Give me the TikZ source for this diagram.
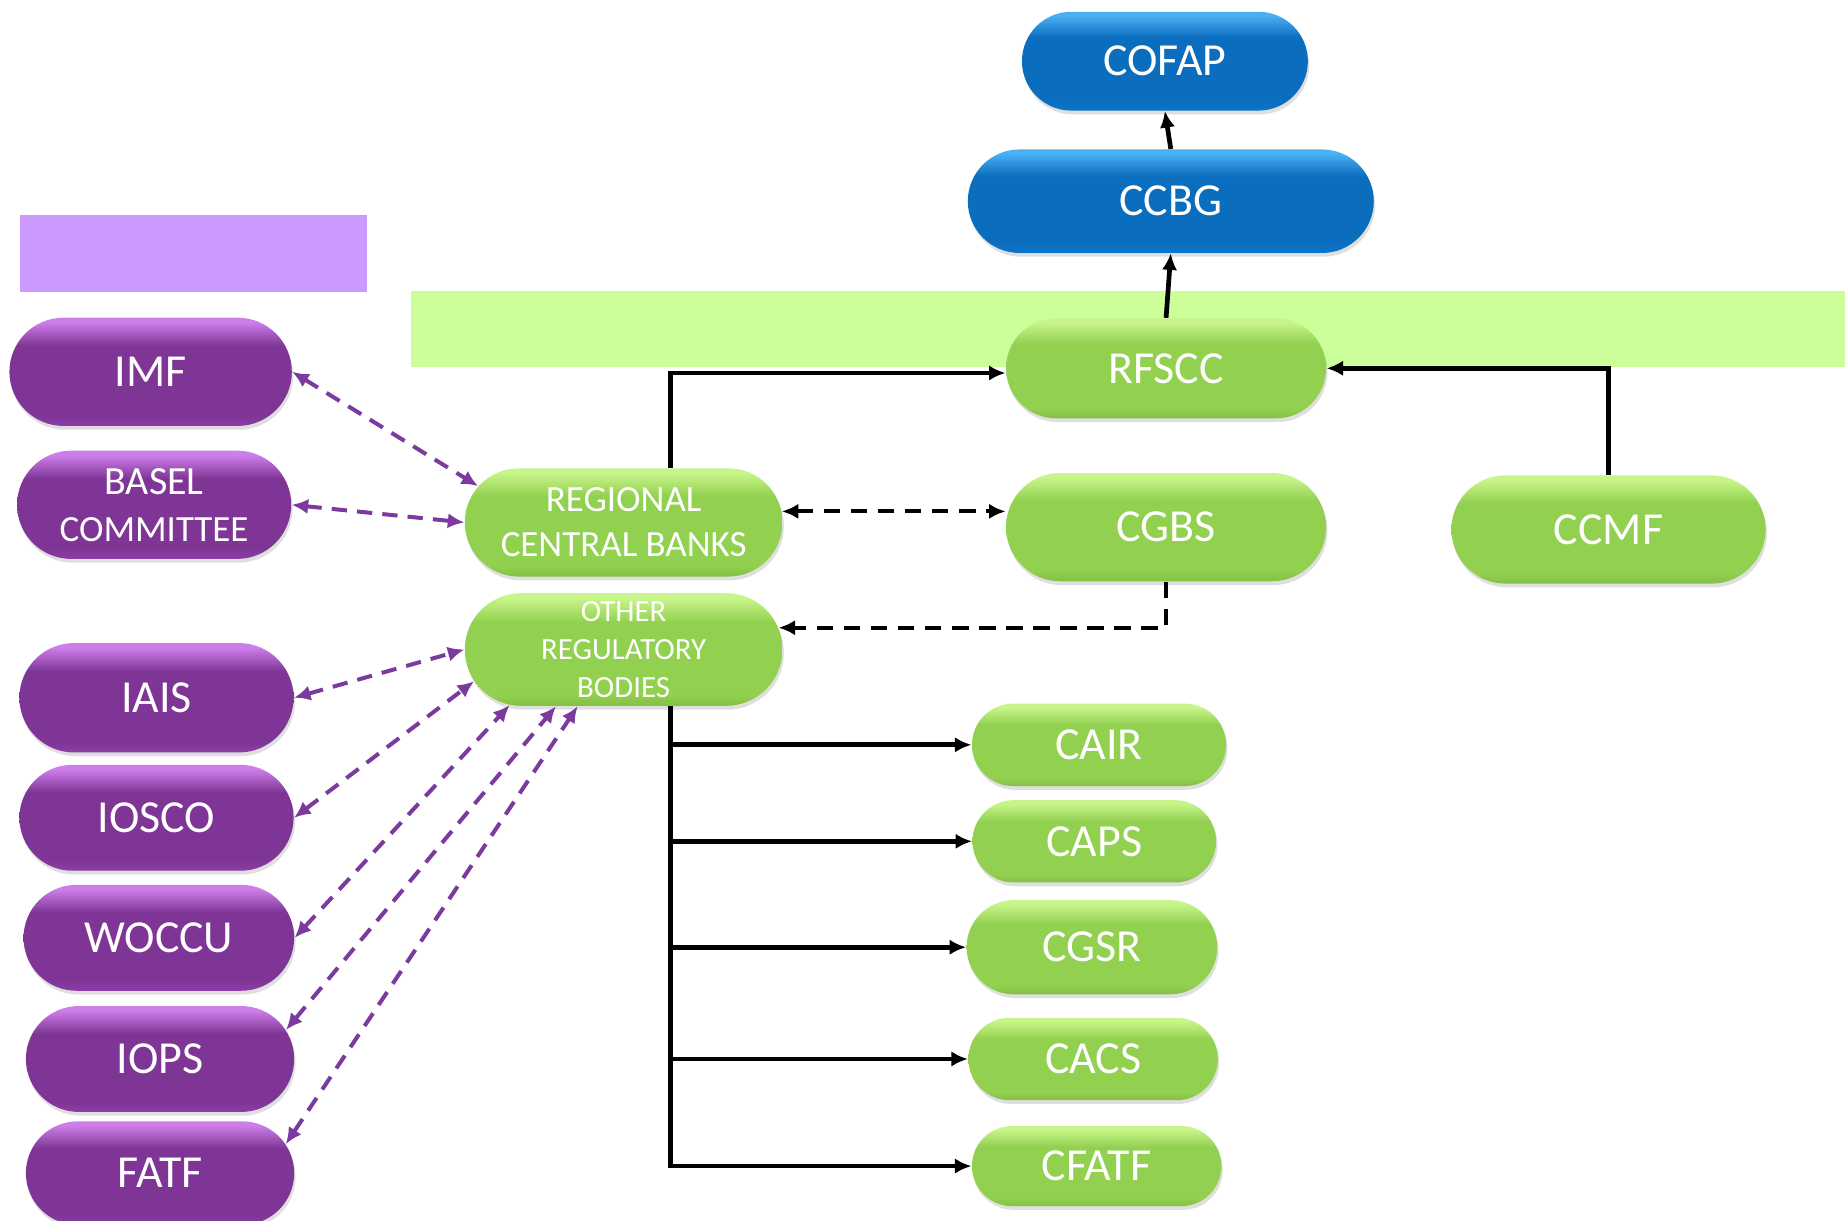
\documentclass[tikz,border=0pt]{standalone}
\usepackage{fontspec}
\setmainfont{Carlito}
\usetikzlibrary{shapes.misc,shadows,arrows.meta}

\definecolor{greenmid}{HTML}{92D050}
\definecolor{greentop}{HTML}{C8F58A}
\definecolor{greenbot}{HTML}{84C043}
\definecolor{purplemid}{HTML}{7E3595}
\definecolor{purpletop}{HTML}{CE7EEA}
\definecolor{purplebot}{HTML}{8C3EA8}
\definecolor{bluemid}{HTML}{0B6DBD}
\definecolor{bluetop}{HTML}{4AB0F4}
\definecolor{bluebot}{HTML}{0A76CC}
\definecolor{bandgreen}{HTML}{CCFF99}
\definecolor{bandpurple}{HTML}{CC99FF}
\definecolor{linkpurple}{HTML}{7A3A9E}

% glossy fills: the path box runs from 25bp (bottom) to 75bp (top)
\pgfdeclareverticalshading{greengloss}{100bp}{color(0bp)=(greenbot); color(25bp)=(greenbot);
  color(30bp)=(greenmid); color(62bp)=(greenmid); color(73bp)=(greentop); color(100bp)=(greentop)}
\pgfdeclareverticalshading{purplegloss}{100bp}{color(0bp)=(purplebot); color(25bp)=(purplebot);
  color(30bp)=(purplemid); color(62bp)=(purplemid); color(73bp)=(purpletop); color(100bp)=(purpletop)}
\pgfdeclareverticalshading{bluegloss}{100bp}{color(0bp)=(bluebot); color(25bp)=(bluebot);
  color(30bp)=(bluemid); color(62bp)=(bluemid); color(73bp)=(bluetop); color(100bp)=(bluetop)}

\begin{document}
\begin{tikzpicture}[x=0.5pt,y=-0.5pt,>={Latex[length=7pt,width=6.5pt]},
    every node/.style={rounded rectangle,inner xsep=-8pt,text=white,align=center,
      font=\fontsize{19.5}{23}\selectfont,
      drop shadow={shadow xshift=.6pt,shadow yshift=-1.6pt,opacity=.25}},
    greenbox/.style={shading=greengloss},
    purplebox/.style={shading=purplegloss},
    bluebox/.style={shading=bluegloss},
    arr/.style={line width=2pt,->},
    darr/.style={line width=1.7pt,dash pattern=on 7pt off 4.5pt},
    plink/.style={draw=linkpurple,line width=1.7pt,dash pattern=on 6.5pt off 4.3pt,<->}]

  \useasboundingbox (0,0) rectangle (1568,1037);
  \fill[white] (0,0) rectangle (1568,1037);

  % coloured bands behind the nodes
  \fill[bandpurple] (17,183) rectangle (312,248);
  \fill[bandgreen] (349,247) rectangle (1568,312);

  % top of the tree
  \node[bluebox,minimum width=105.5pt,minimum height=42pt] (cofap) at (990,52) {COFAP};
  \node[bluebox,minimum width=156.5pt,minimum height=44pt] (ccbg) at (995,171) {CCBG};
  \node[greenbox,minimum width=120pt,minimum height=42.5pt] (rfscc) at (991,313) {RFSCC};

  % middle row
  \node[greenbox,minimum width=119pt,minimum height=46pt,font=\fontsize{15.7}{19}\selectfont] (rcb) at (530,444) {REGIONAL\\CENTRAL BANKS};
  \node[greenbox,minimum width=120pt,minimum height=46pt] (cgbs) at (991,448) {CGBS};
  \node[greenbox,minimum width=117.5pt,minimum height=46pt] (ccmf) at (1367,450) {CCMF};
  \node[greenbox,minimum width=119pt,minimum height=47.5pt,font=\fontsize{13.1}{16.3}\selectfont] (orb) at (530,552) {OTHER\\REGULATORY\\BODIES};

  % caribbean groups
  \node[greenbox,minimum width=92pt,minimum height=35pt] (cair) at (934,633) {CAIR};
  \node[greenbox,minimum width=87.5pt,minimum height=35pt] (caps) at (930,715) {CAPS};
  \node[greenbox,minimum width=90.5pt,minimum height=40pt] (cgsr) at (928,805) {CGSR};
  \node[greenbox,minimum width=90pt,minimum height=35pt] (cacs) at (929,900) {CACS};
  \node[greenbox,minimum width=90pt,minimum height=34pt] (cfatf) at (932,991) {CFATF};

  % international bodies
  \node[purplebox,minimum width=104pt,minimum height=46pt] (imf) at (128,316) {IMF};
  \node[purplebox,minimum width=100.5pt,minimum height=46pt,font=\fontsize{15.7}{20}\selectfont] (basel) at (131,429) {{\fontsize{17}{20}\selectfont BASEL}\\COMMITTEE};
  \node[purplebox,minimum width=100.5pt,minimum height=46.5pt] (iais) at (133,593) {IAIS};
  \node[purplebox,minimum width=100.5pt,minimum height=45pt] (iosco) at (133,695) {IOSCO};
  \node[purplebox,minimum width=99pt,minimum height=45pt] (woccu) at (135,797) {WOCCU};
  \node[purplebox,minimum width=98pt,minimum height=45pt] (iops) at (136,900) {IOPS};
  \node[purplebox,minimum width=98pt,minimum height=44pt] (fatf) at (136,997) {FATF};

  % reporting lines
  \draw[arr] (ccbg.north) -- (cofap.south);
  \draw[arr] (rfscc.north) -- (ccbg.south);
  \draw[arr] ([xshift=20pt]rcb.north) |- ([yshift=-2pt]rfscc.west);
  \draw[arr] (ccmf.north) |- (rfscc.east);
  \foreach \n in {cair,caps,cgsr,cacs,cfatf}
    \draw[arr] ([xshift=20pt]orb.south) |- (\n.west);

  \draw[darr,<->] (rcb.4) -- (rcb.4 -| cgbs.west);
  \draw[darr,->] (cgbs.south) |- (orb.8);

  % links to the international bodies
  \draw[plink] (imf.east) -- (rcb.166);
  \draw[plink] (basel.east) -- (rcb.west);
  \draw[plink] (iais.east) -- (orb.west);
  \draw[plink] (iosco.east) -- (orb.192);
  \draw[plink] (woccu.east) -- (orb.206);
  \draw[plink] (iops.13) -- (orb.220);
  \draw[plink] (fatf.13) -- (orb.231);
\end{tikzpicture}
\end{document}
